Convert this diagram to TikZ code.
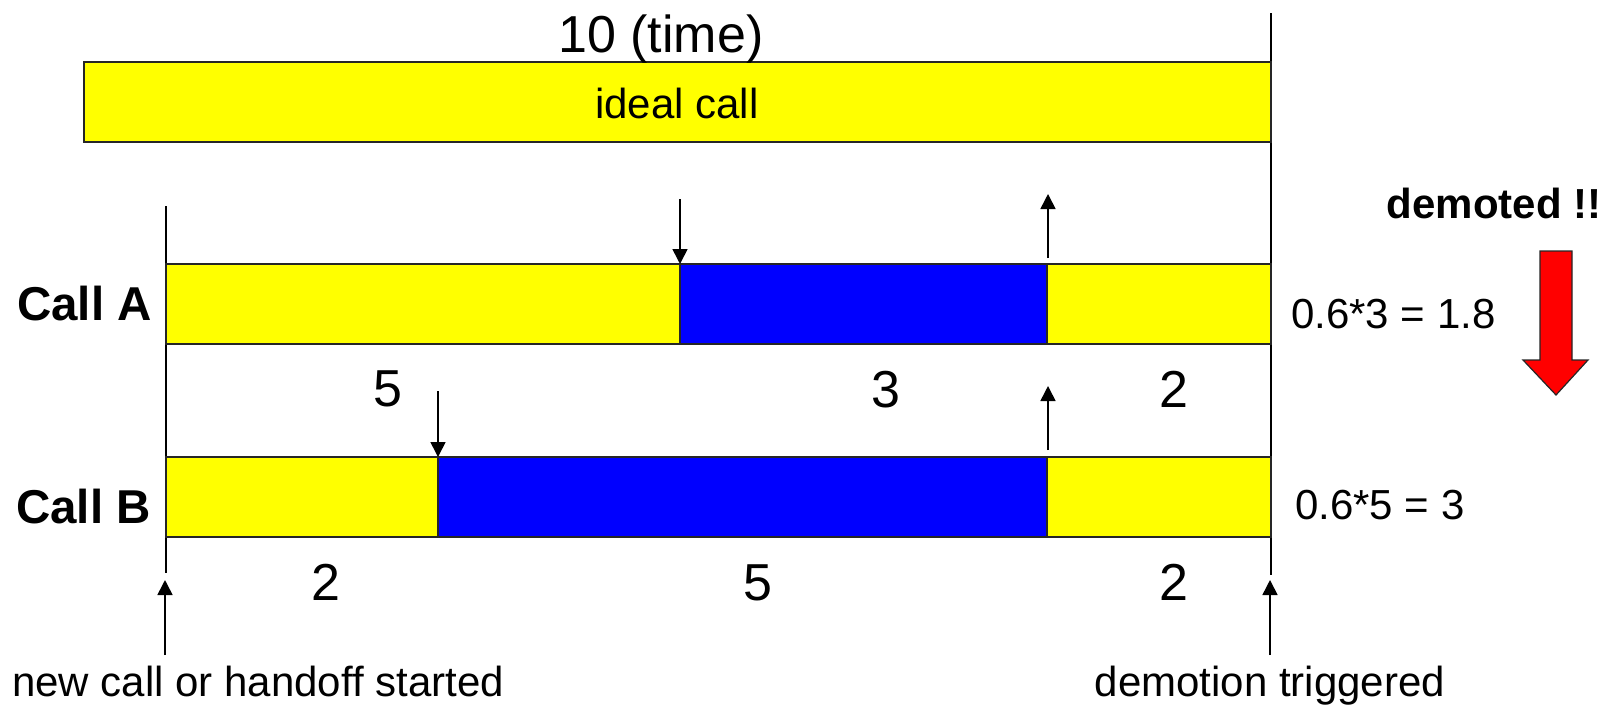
\documentclass[tikz,border=0pt]{standalone}
\usepackage{fontspec}
\setmainfont{Liberation Sans}
\usetikzlibrary{arrows.meta}
\definecolor{barYellow}{RGB}{255,255,0}
\definecolor{barBlue}{RGB}{0,0,255}
\definecolor{alertRed}{RGB}{255,0,0}
\begin{document}
\begin{tikzpicture}[x=1pt,y=-1pt,
  seg/.style={draw=black!85, line width=1.6pt, anchor=north west, inner sep=0pt, outer sep=0pt, minimum height=80pt},
  arr/.style={line width=1.6pt, -{Triangle[width=15pt,length=15pt]}},
  rule/.style={line width=1.6pt},
  lbl/.style={font=\fontsize{42}{50}\selectfont, inner sep=0pt, anchor=base},
  num/.style={font=\fontsize{52}{60}\selectfont, inner sep=0pt, anchor=base},
  callname/.style={font=\fontsize{47.5}{56}\selectfont\bfseries, inner sep=0pt, anchor=base east},
]
\useasboundingbox (0,0) rectangle (1619,705);

% time axis boundaries
\coordinate (ltop) at (166,206);
\coordinate (lbot) at (166,573);
\coordinate (rtop) at (1271,13);
\coordinate (rbot) at (1271,575);
\draw[rule] (ltop) -- (lbot);
\draw[rule] (rtop) -- (rbot);

% ideal call bar
\node[seg, fill=barYellow, minimum width=1187pt] (ideal) at (84,62) {};
\node[num] (ttime) at (661,52) {10 (time)};
\node[lbl] (tideal) at (677,118) {ideal call};

% call A
\node[seg, fill=barYellow, minimum width=514pt] (a1) at (166,264) {};
\node[seg, fill=barBlue,   minimum width=367pt] (a2) at (680,264) {};
\node[seg, fill=barYellow, minimum width=224pt] (a3) at (1047,264) {};
\node[callname] (nameA) at (152,320) {Call A};

% call B
\node[seg, fill=barYellow, minimum width=272pt] (b1) at (166,457) {};
\node[seg, fill=barBlue,   minimum width=609pt] (b2) at (438,457) {};
\node[seg, fill=barYellow, minimum width=224pt] (b3) at (1047,457) {};
\node[callname] (nameB) at (151,523) {Call B};

% state change markers
\coordinate (aDownStart) at (680,199);
\coordinate (aUpStart) at (1048,258);
\coordinate (aUpEnd) at (1048,194);
\coordinate (bDownStart) at (438,391);
\coordinate (bUpStart) at (1048,450);
\coordinate (bUpEnd) at (1048,386);
\draw[arr] (aDownStart) -- (a2.north west);
\draw[arr] (aUpStart) -- (aUpEnd);
\draw[arr] (bDownStart) -- (b2.north west);
\draw[arr] (bUpStart) -- (bUpEnd);

% durations
\node[num] (dA1) at (388,406) {5};
\node[num] (dA2) at (886,407) {3};
\node[num] (dA3) at (1174,407) {2};
\node[num] (dB1) at (326,600) {2};
\node[num] (dB2) at (758,600) {5};
\node[num] (dB3) at (1174,600) {2};

% scores
\node[lbl, anchor=base west] (scoreA) at (1291,328) {0.6*3 = 1.8};
\node[lbl, anchor=base west] (scoreB) at (1295,519) {0.6*5 = 3};
\node[lbl, font=\fontsize{42}{50}\selectfont\bfseries] (demoted) at (1494,218) {demoted !!};
\fill[alertRed, draw=black!85, line width=1.2pt]
  (1540,251) -- (1572,251) -- (1572,360) -- (1588,360) -- (1556,395)
  -- (1523,360) -- (1540,360) -- cycle;

% event labels
\node[lbl] (startlbl) at (258,696) {new call or handoff started};
\node[lbl] (triglbl) at (1270,696) {demotion triggered};
\coordinate (startFoot) at (165,655);
\coordinate (startTip) at (165,580);
\coordinate (trigFoot) at (1270,655);
\coordinate (trigTip) at (1270,580);
\draw[arr] (startFoot) -- (startTip);
\draw[arr] (trigFoot) -- (trigTip);
\end{tikzpicture}
\end{document}
